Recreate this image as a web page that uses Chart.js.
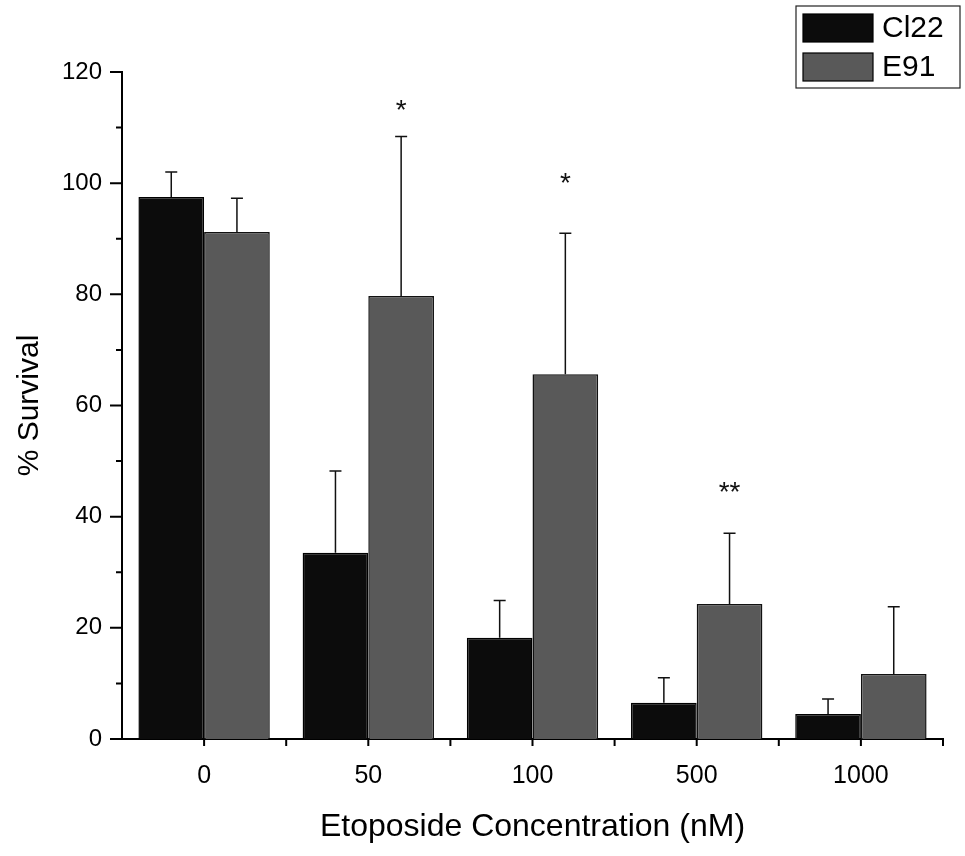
<!DOCTYPE html>
<html>
<head>
<meta charset="utf-8">
<title>Etoposide survival</title>
<script src="https://cdn.jsdelivr.net/npm/chart.js@4/dist/chart.umd.min.js"></script>
<style>
  html, body { margin: 0; padding: 0; background: #fff; }
  #chart { display: block; }
</style>
</head>
<body>
<canvas id="chart" width="965" height="856"></canvas>
<script>
// --- data ---
const concentrations = ['0', '50', '100', '500', '1000'];
const cl22 = [97.5, 33.5, 18.2, 6.5, 4.5];
const cl22Err = [4.5, 14.7, 6.7, 4.5, 2.7];
const e91 = [91.2, 79.7, 65.6, 24.3, 11.7];
const e91Err = [6.1, 28.7, 25.4, 12.7, 12.1];
// significance marks above the E91 bars
const sigLabels = ['', '*', '*', '**', ''];
const sigY = [null, 114.4, 101.2, 45.7, null];
const yTicks = [0, 20, 40, 60, 80, 100, 120];

const FONT = '"Liberation Sans", Arial, Helvetica, sans-serif';
Chart.defaults.font.family = FONT;
Chart.defaults.color = '#000';

const CL22_COLOR = '#0c0c0c';
const E91_COLOR = '#595959';

// ticks, error bars, star marks and the boxed legend
const extrasPlugin = {
    id: 'extras',
    afterDatasetsDraw(chart) {
        const ctx = chart.ctx;
        const x = chart.scales.x;
        const y = chart.scales.y;
        const area = chart.chartArea;
        ctx.save();

        // error bars (upper only)
        const errs = [cl22Err, e91Err];
        ctx.strokeStyle = '#111';
        ctx.lineWidth = 1.5;
        chart.data.datasets.forEach((ds, di) => {
            const meta = chart.getDatasetMeta(di);
            meta.data.forEach((bar, i) => {
                const top = y.getPixelForValue(ds.data[i] + errs[di][i]);
                const base = y.getPixelForValue(ds.data[i]);
                ctx.beginPath();
                ctx.moveTo(bar.x, base);
                ctx.lineTo(bar.x, top);
                ctx.moveTo(bar.x - 6, top);
                ctx.lineTo(bar.x + 6, top);
                ctx.stroke();
            });
        });

        // significance stars
        ctx.fillStyle = '#111';
        ctx.font = '28px ' + FONT;
        ctx.textAlign = 'center';
        ctx.textBaseline = 'alphabetic';
        const e91Meta = chart.getDatasetMeta(1);
        sigLabels.forEach((s, i) => {
            if (!s) return;
            const py = y.getPixelForValue(sigY[i]);
            ctx.fillText(s, e91Meta.data[i].x, py + 16);
        });

        // axis ticks, pointing outward
        ctx.strokeStyle = '#000';
        ctx.lineWidth = 2;
        ctx.beginPath();
        for (let v = 0; v <= 120; v += 10) {
            const py = y.getPixelForValue(v);
            const len = v % 20 === 0 ? 12 : 6;
            ctx.moveTo(area.left, py);
            ctx.lineTo(area.left - len, py);
        }
        const n = concentrations.length;
        for (let i = 0; i < n; i++) {
            const c = x.getPixelForValue(i);
            ctx.moveTo(c, area.bottom);
            ctx.lineTo(c, area.bottom + 7);
            const b = (x.getPixelForValue(i) + x.getPixelForValue(i + 1)) / 2;
            if (i < n - 1) {
                ctx.moveTo(b, area.bottom);
                ctx.lineTo(b, area.bottom + 7);
            }
        }
        ctx.moveTo(area.right, area.bottom);
        ctx.lineTo(area.right, area.bottom + 7);
        ctx.stroke();

        // legend box
        const lx = 796, ly = 6, lw = 164, lh = 82;
        ctx.lineWidth = 1.2;
        ctx.strokeStyle = '#222';
        ctx.strokeRect(lx, ly, lw, lh);
        ctx.font = '30px ' + FONT;
        ctx.textAlign = 'left';
        ctx.textBaseline = 'middle';
        chart.data.datasets.forEach((ds, di) => {
            const sy = ly + 8 + di * 39;
            ctx.fillStyle = ds.backgroundColor;
            ctx.fillRect(lx + 7, sy, 70, 28);
            ctx.strokeStyle = '#000';
            ctx.lineWidth = 1.2;
            ctx.strokeRect(lx + 7, sy, 70, 28);
            ctx.fillStyle = '#000';
            ctx.fillText(ds.label, lx + 86, sy + 15);
        });
        ctx.restore();
    }
};

new Chart(document.getElementById('chart'), {
    type: 'bar',
    data: {
        labels: concentrations,
        datasets: [
            {
                label: 'Cl22',
                data: cl22,
                backgroundColor: CL22_COLOR,
                borderColor: '#000',
                borderWidth: 1.5,
                categoryPercentage: 0.8,
                barPercentage: 1.0
            },
            {
                label: 'E91',
                data: e91,
                backgroundColor: E91_COLOR,
                borderColor: '#111',
                borderWidth: 1.5,
                categoryPercentage: 0.8,
                barPercentage: 1.0
            }
        ]
    },
    options: {
        responsive: false,
        animation: false,
        layout: { padding: { top: 72, right: 22, left: 0, bottom: 0 } },
        plugins: {
            legend: { display: false },
            tooltip: { enabled: false }
        },
        scales: {
            x: {
                grid: { display: false, drawTicks: false },
                border: { display: true, color: '#000', width: 2 },
                ticks: { font: { size: 25 }, padding: 22, maxRotation: 0 },
                title: {
                    display: true,
                    text: 'Etoposide Concentration (nM)',
                    font: { size: 32 },
                    padding: { bottom: 10 }
                },
                afterFit(scale) { scale.height = 117; }
            },
            y: {
                min: 0,
                max: 120,
                grid: { display: false, drawTicks: false },
                border: { display: true, color: '#000', width: 2 },
                afterBuildTicks(scale) { scale.ticks = yTicks.map(v => ({ value: v })); },
                ticks: { font: { size: 24 }, padding: 20 },
                title: {
                    display: true,
                    text: '% Survival',
                    font: { size: 30 },
                    padding: { top: 12 }
                },
                afterFit(scale) { scale.width = 122; }
            }
        }
    },
    plugins: [extrasPlugin]
});
</script>
</body>
</html>
